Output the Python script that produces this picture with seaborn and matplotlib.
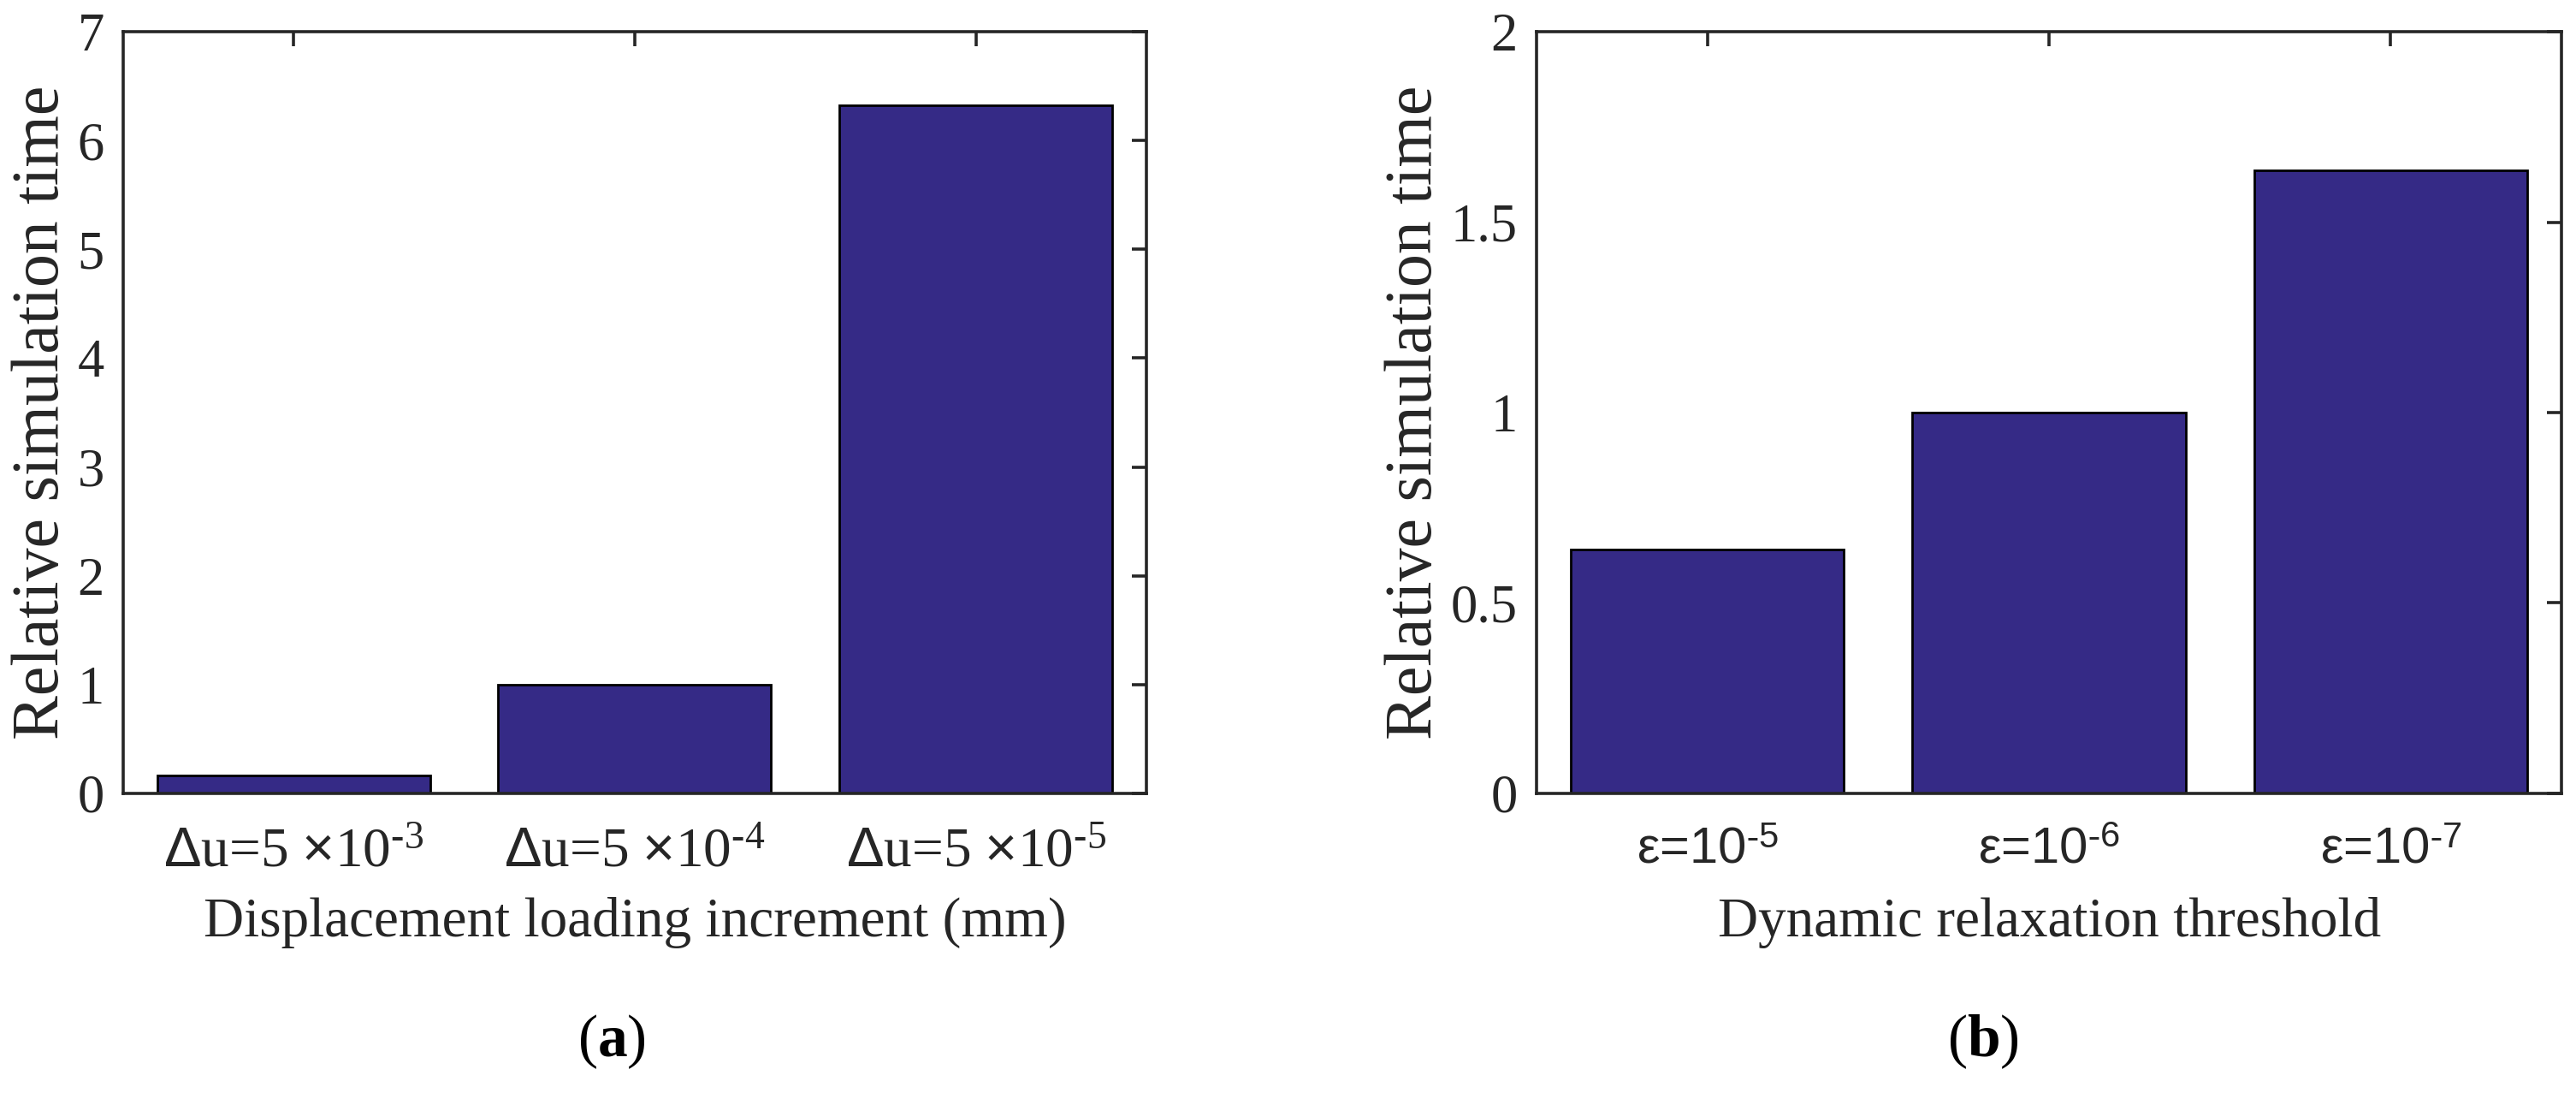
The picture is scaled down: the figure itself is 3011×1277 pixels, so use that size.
import matplotlib
matplotlib.use("Agg")
import matplotlib.pyplot as plt
import seaborn as sns
import pandas as pd

# ---------------- data ----------------
increment_labels = [
    r"$\mathsf{\Delta}$u=5 $\mathsf{\times}$10$^{\mathrm{\text{-}3}}$",
    r"$\mathsf{\Delta}$u=5 $\mathsf{\times}$10$^{\mathrm{\text{-}4}}$",
    r"$\mathsf{\Delta}$u=5 $\mathsf{\times}$10$^{\mathrm{\text{-}5}}$",
]
increment_times = [0.165, 1.0, 6.32]

threshold_labels = [
    r"ε=10$^{\mathsf{\text{-}5}}$",
    r"ε=10$^{\mathsf{\text{-}6}}$",
    r"ε=10$^{\mathsf{\text{-}7}}$",
]
threshold_times = [0.64, 1.0, 1.635]

left_yticks = [0, 1, 2, 3, 4, 5, 6, 7]
left_ytick_labels = ["0", "1", "2", "3", "4", "5", "6", "7"]
right_yticks = [0, 0.5, 1, 1.5, 2]
right_ytick_labels = ["0", "0.5", "1", "1.5", "2"]

ylabel_text = "Relative simulation time"
left_xlabel = "Displacement loading increment (mm)"
right_xlabel = "Dynamic relaxation threshold"
panel_labels = [r"($\mathbf{a}$)", r"($\mathbf{b}$)"]

# ---------------- style ----------------
sns.set_style("white")
plt.rcParams["font.family"] = ["Liberation Serif", "DejaVu Serif"]
plt.rcParams["mathtext.fontset"] = "custom"
plt.rcParams["mathtext.rm"] = "Liberation Serif"
plt.rcParams["mathtext.sf"] = "Liberation Sans"
plt.rcParams["mathtext.bf"] = "Liberation Serif:bold"
plt.rcParams["mathtext.it"] = "Liberation Serif:italic"

BAR = "#352A86"
INK = "#262626"
SPINE_LW = 2.6

fig = plt.figure(figsize=(30.11, 12.77), dpi=100)
ax1 = fig.add_axes([0.0478, 0.2741, 0.3972, 0.6969])
ax2 = fig.add_axes([0.5965, 0.2741, 0.3979, 0.6969])

df1 = pd.DataFrame({"label": increment_labels, "time": increment_times})
df2 = pd.DataFrame({"label": threshold_labels, "time": threshold_times})

for ax, df, yt, ytl, xl in [
    (ax1, df1, left_yticks, left_ytick_labels, left_xlabel),
    (ax2, df2, right_yticks, right_ytick_labels, right_xlabel),
]:
    sns.barplot(data=df, x="label", y="time", color=BAR, saturation=1,
                edgecolor="black", linewidth=2.0, width=0.8, errorbar=None, ax=ax)
    ax.set_xlim(-0.5, 2.5)
    ax.set_ylim(yt[0], yt[-1])
    ax.set_yticks(yt)
    ax.set_yticklabels(ytl)
    for s in ax.spines.values():
        s.set_visible(True)
        s.set_color(INK)
        s.set_linewidth(SPINE_LW)
    ax.tick_params(axis="both", direction="in", top=True, right=True,
                   length=12, width=SPINE_LW, color=INK, labelcolor=INK)
    ax.tick_params(axis="y", labelsize=45, pad=16)
    ax.tick_params(axis="x", labelsize=47, pad=28)
    ax.set_xlabel(xl, fontsize=47, color=INK)
    ax.set_ylabel(ylabel_text, fontsize=56, color=INK)
    ax.xaxis.label.set_verticalalignment("center")
    ax.yaxis.label.set_verticalalignment("center")
    ax.grid(False)

for t in ax2.get_xticklabels():
    t.set_fontfamily(["Liberation Sans", "DejaVu Sans"])
    t.set_fontsize(43)

ax1.xaxis.set_label_coords(0.5, -0.170)
ax2.xaxis.set_label_coords(0.5, -0.170)
ax1.yaxis.set_label_coords(-0.079, 0.5)
ax2.yaxis.set_label_coords(-0.118, 0.5)

fig.text(715 / 3011, 1 - 1217 / 1277, panel_labels[0], ha="center", va="center",
         fontsize=50, color="black")
fig.text(2318 / 3011, 1 - 1217 / 1277, panel_labels[1], ha="center", va="center",
         fontsize=50, color="black")

fig.savefig("out.png", dpi=100, facecolor="white")
